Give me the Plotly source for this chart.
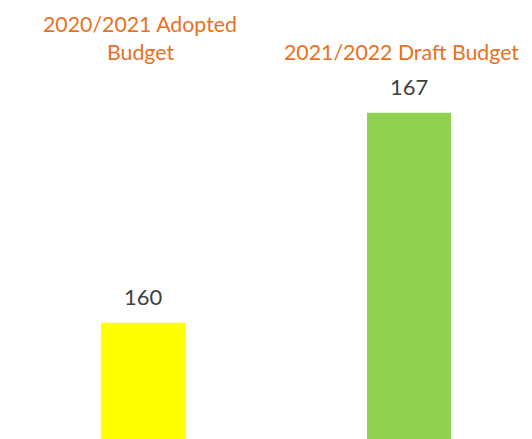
import plotly.graph_objects as go

categories = ["2020/2021 Adopted Budget", "2021/2022 Draft Budget"]
values = [160, 167]
colors = ["#FFFF00", "#92D050"]

W, H = 532, 439
FONT = "Lato"

fig = go.Figure()
fig.add_trace(go.Bar(
    x=[0, 1], y=values, marker=dict(color=colors, line=dict(width=0)),
    width=0.316, hoverinfo="skip",
))

for i, v in enumerate(values):
    fig.add_annotation(x=i, y=v, text=str(v), showarrow=False, xref="x", yref="y",
                       yanchor="bottom", yshift=11,
                       font=dict(family=FONT, size=22, color="#404040"))

orange = "#E8711E"
def lab(text, cx, cy):
    fig.add_annotation(x=cx / W, y=1 - cy / H, xref="paper", yref="paper", text=text,
                       showarrow=False, xanchor="center", yanchor="middle",
                       font=dict(family=FONT, size=21.3, color=orange))

lab("2020/2021 Adopted", 140, 23.5)
lab("Budget", 140.5, 52)
lab("2021/2022 Draft Budget", 401.5, 52)

fig.update_layout(
    width=W, height=H, margin=dict(l=0, r=0, t=0, b=0),
    paper_bgcolor="white", plot_bgcolor="white", showlegend=False,
    xaxis=dict(range=[-143 / 266, (W - 143) / 266], visible=False, fixedrange=True),
    yaxis=dict(range=[156.12, 170.76], visible=False, fixedrange=True),
)
fig.write_html("out.html")
